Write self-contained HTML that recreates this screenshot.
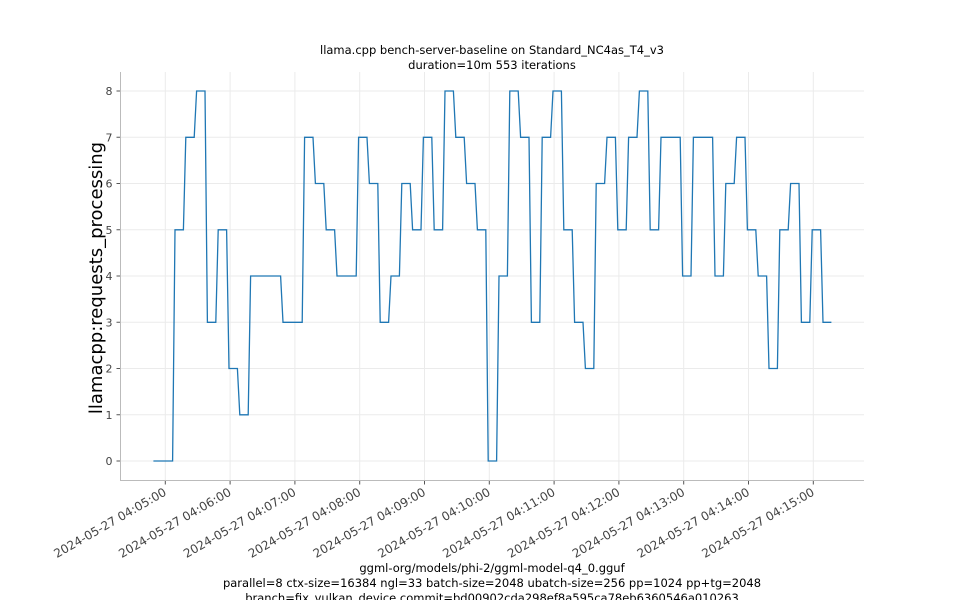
<!DOCTYPE html>
<html><head><meta charset="utf-8"><style>
body{margin:0;background:#fff;}
svg{display:block;font-family:"DejaVu Sans","Liberation Sans",sans-serif;}
</style></head><body>
<svg id="chart" width="960" height="600" viewBox="0 0 960 600" xmlns="http://www.w3.org/2000/svg">
<text x="492" y="54" font-size="11.5" text-anchor="middle" fill="#000">llama.cpp bench-server-baseline on Standard_NC4as_T4_v3</text>
<text x="492" y="69" font-size="11.5" text-anchor="middle" fill="#000">duration=10m 553 iterations</text>
<text transform="translate(102,278) rotate(-90)" font-size="18" text-anchor="middle" fill="#000">llamacpp:requests_processing</text>
<g id="grid"></g>
<g id="axes"></g>
<g id="series"></g>
<text x="492" y="572" font-size="11.5" text-anchor="middle" fill="#000">ggml-org/models/phi-2/ggml-model-q4_0.gguf</text>
<text x="492" y="587" font-size="11.5" text-anchor="middle" fill="#000">parallel=8 ctx-size=16384 ngl=33 batch-size=2048 ubatch-size=256 pp=1024 pp+tg=2048</text>
<text x="492" y="602" font-size="11.5" text-anchor="middle" fill="#000">branch=fix_vulkan_device commit=bd00902cda298ef8a595ca78eb6360546a010263</text>
</svg>
<script>
// seconds after 04:05:00 for first sample; samples every 10 s
const startSec = -11;
const stepSec = 10;
const values = [0,0,5,7,8,3,5,2,1,4,4,4,3,3,7,6,5,4,4,7,6,3,4,6,5,7,5,8,7,6,5,0,4,8,7,3,7,8,5,3,2,6,7,5,7,8,5,7,7,4,7,7,4,6,7,5,4,2,5,6,3,5,3];
const yTicks = [0,1,2,3,4,5,6,7,8];
const xTickMinutes = [5,6,7,8,9,10,11,12,13,14,15];
const xTickLabels = ["2024-05-27 04:05:00","2024-05-27 04:06:00","2024-05-27 04:07:00","2024-05-27 04:08:00","2024-05-27 04:09:00","2024-05-27 04:10:00","2024-05-27 04:11:00","2024-05-27 04:12:00","2024-05-27 04:13:00","2024-05-27 04:14:00","2024-05-27 04:15:00"];

const NS="http://www.w3.org/2000/svg";
const L=120.5,R=864,T=72,B=480.5;
const xs = s => 165.3 + s*(648/600);
const ys = v => 461 - v*46.25;
function mk(tag,attrs,parent){const e=document.createElementNS(NS,tag);for(const k in attrs)e.setAttribute(k,attrs[k]);parent.appendChild(e);return e;}
const grid=document.getElementById('grid'),axes=document.getElementById('axes'),series=document.getElementById('series');

yTicks.forEach(v=>{
  const gl=mk('line',{x1:L,x2:R,y1:ys(v),y2:ys(v),stroke:'#ebebeb','stroke-width':1},grid);
  
  
  const tk=mk('line',{x1:L-4,x2:L,y1:ys(v),y2:ys(v),stroke:'#555','stroke-width':1},axes);
  
  
  const tl=mk('text',{x:L-8,y:ys(v)+4,'font-size':11,'text-anchor':'end',fill:'#444'},axes);
  tl.textContent=v;
  
  
});
xTickMinutes.forEach((m,i)=>{
  const x=xs((m-5)*60);
  const gl=mk('line',{x1:x,x2:x,y1:T,y2:B,stroke:'#ebebeb','stroke-width':1},grid);
  
  
  const tk=mk('line',{x1:x,x2:x,y1:B,y2:B+4,stroke:'#555','stroke-width':1},axes);
  
  
  const tl=mk('text',{transform:`translate(${x+2},${B+14}) rotate(-30)`,'font-size':12,'text-anchor':'end',fill:'#444'},axes);
  tl.textContent=xTickLabels[i];
  
  
});
const ax=mk('path',{d:`M${L},${T} V${B} H${R}`,fill:'none',stroke:'#bbb','stroke-width':1},axes);



let d='';
values.forEach((v,i)=>{
  const t=startSec+i*stepSec;
  d+=(i?'L':'M')+xs(t).toFixed(1)+','+ys(v).toFixed(1)+'L'+xs(t+7.8).toFixed(1)+','+ys(v).toFixed(1);
});
const line=mk('path',{d:d,fill:'none',stroke:'#1f77b4','stroke-width':1.3},series);


</script>
</body></html>
